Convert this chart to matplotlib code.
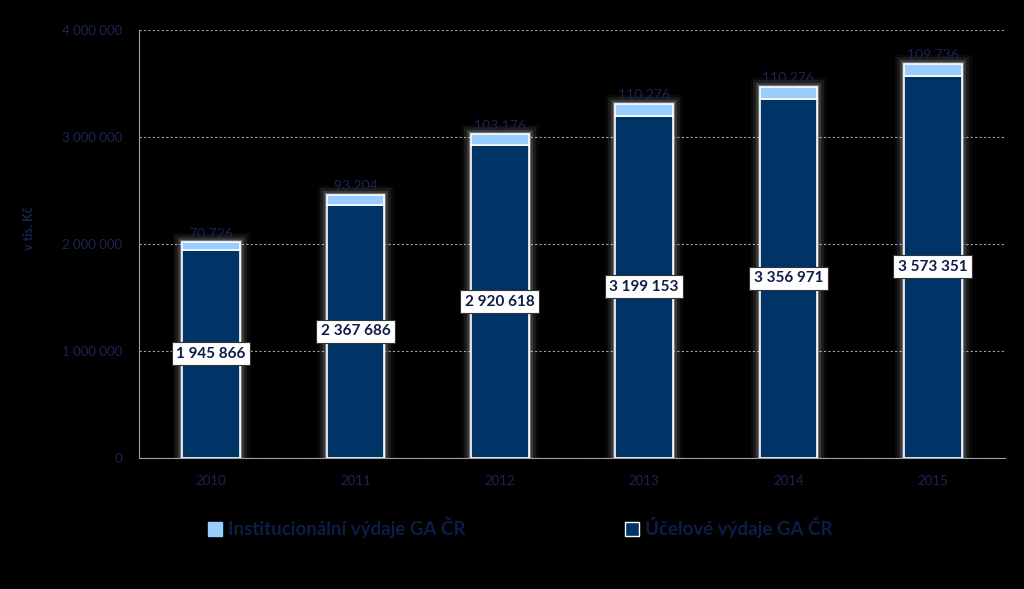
import matplotlib
matplotlib.use("Agg")
import matplotlib.pyplot as plt
import matplotlib.patheffects as pe
from matplotlib.patches import Patch
from matplotlib.ticker import FuncFormatter

plt.rcParams["font.family"] = ["Lato", "DejaVu Sans"]

years = ["2010", "2011", "2012", "2013", "2014", "2015"]
ucelove = [1945866, 2367686, 2920618, 3199153, 3356971, 3573351]
institucionalni = [70726, 93204, 103176, 110276, 110276, 109736]
yticks = [0, 1000000, 2000000, 3000000, 4000000]

dark = "#003366"
light = "#99ccff"
navy_text = "#0f1c4a"
tick_text = "#1a2450"

def fmt(v):
    return f"{int(v):,}".replace(",", " ")

fig = plt.figure(figsize=(10.24, 5.89), dpi=100, facecolor="black")
ax = fig.add_axes([139/1024, 1-458/589, (1005-139)/1024, (458-30)/589], facecolor="black")

x = list(range(len(years)))
w = 0.40
totals = [a + b for a, b in zip(ucelove, institucionalni)]

# glow behind whole bar
glow = ax.bar(x, totals, width=w, color="black", edgecolor="white", linewidth=0.5, zorder=2)
for p in glow:
    p.set_path_effects([
        pe.Stroke(linewidth=14, foreground="#ffffff", alpha=0.04),
        pe.Stroke(linewidth=10, foreground="#ffffff", alpha=0.07),
        pe.Stroke(linewidth=6, foreground="#ffffff", alpha=0.13),
        pe.Stroke(linewidth=3, foreground="#ffffff", alpha=0.3),
        pe.Normal(),
    ])

b1 = ax.bar(x, ucelove, width=w, color=dark, edgecolor="white", linewidth=1.2, zorder=3)
b2 = ax.bar(x, institucionalni, width=w, bottom=ucelove, color=light, edgecolor="white", linewidth=1.2, zorder=3)

for xi, u, ins in zip(x, ucelove, institucionalni):
    ax.text(xi, u / 2, fmt(u), ha="center", va="center", fontsize=11, fontweight="bold",
            color=navy_text, zorder=5,
            bbox=dict(boxstyle="square,pad=0.3", facecolor="white", edgecolor="#333333", linewidth=0.8))
    ax.text(xi, u + ins + 25000, fmt(ins), ha="center", va="bottom", fontsize=10,
            color=tick_text, zorder=5)

ax.set_ylim(0, 4000000)
ax.set_xlim(-0.5, len(years) - 0.5)
ax.set_yticks(yticks)
ax.yaxis.set_major_formatter(FuncFormatter(lambda v, p: fmt(v)))
ax.set_xticks(x)
ax.set_xticklabels(years)
ax.tick_params(axis="both", length=0, colors=tick_text, labelsize=9.5)
ax.tick_params(axis="x", pad=12)
ax.tick_params(axis="y", pad=12)
ax.grid(axis="y", color="#a0a0a0", linestyle=(0, (2, 2)), linewidth=0.8, zorder=0)
ax.set_axisbelow(True)
for s in ["top", "right"]:
    ax.spines[s].set_visible(False)
ax.spines["left"].set_color("#a0a0a0")
ax.spines["bottom"].set_color("#a0a0a0")
ax.set_ylabel("v tis. Kč", color=tick_text, fontsize=9, fontweight="bold")
ax.yaxis.set_label_coords(-0.12, 0.537)

handles = [Patch(facecolor=light, edgecolor=light, label="Institucionální výdaje GA ČR"),
           Patch(facecolor=dark, edgecolor="white", label="Účelové výdaje GA ČR")]
leg = fig.legend(handles=handles, loc="center", bbox_to_anchor=(0.508, 1-528/589), ncol=2,
                 frameon=False, fontsize=13.5, columnspacing=8.5, handlelength=0.75,
                 handleheight=0.75, handletextpad=0.3)
for t in leg.get_texts():
    t.set_color(navy_text)
    t.set_fontweight("bold")

fig.savefig("out.png", dpi=100, facecolor="black")
